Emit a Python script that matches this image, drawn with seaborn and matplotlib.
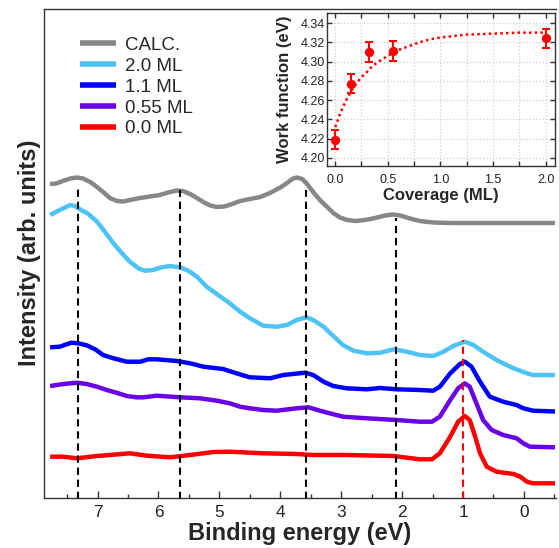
import numpy as np
import pandas as pd
import matplotlib
matplotlib.use("Agg")
import matplotlib.pyplot as plt
import seaborn as sns
from matplotlib.ticker import MultipleLocator, FormatStrFormatter

# ---------------- data (main panel) ----------------
series = ["CALC.", "2.0 ML", "1.1 ML", "0.55 ML", "0.0 ML"]
colors = ["#878787", "#4EC3F5", "#0000FF", "#6A00E6", "#FF0000"]

energy_calc = [7.78, 7.68, 7.57, 7.45, 7.34, 7.24, 7.12, 7.01, 6.89, 6.80, 6.68, 6.58, 6.47,
               6.30, 6.14, 5.98, 5.81, 5.70, 5.60, 5.48, 5.37, 5.25, 5.15, 5.04, 4.92, 4.79,
               4.66, 4.50, 4.33, 4.17, 4.00, 3.89, 3.79, 3.73, 3.64, 3.56, 3.46, 3.35, 3.23,
               3.13, 3.02, 2.90, 2.77, 2.61, 2.44, 2.28, 2.15, 2.03, 1.87, 1.71, 1.49, 1.21,
               -0.51]
int_calc = [315, 315.5, 318, 320.5, 321.5, 320.5, 317, 312, 306, 301, 298, 297.5, 299,
            301, 302.5, 304, 307, 308.5, 308, 305, 301, 296.5, 293.5, 292, 292.5, 295,
            298, 300, 302, 306, 311.5, 316, 320.5, 321.5, 320, 315, 307, 299, 292,
            286, 281.5, 279, 278, 279, 281, 283.5, 284.5, 283.5, 280.5, 278, 276.5, 276,
            276]

energy_20 = [7.78, 7.62, 7.45, 7.37, 7.29, 7.15, 7.01, 6.88, 6.74, 6.60, 6.47, 6.33, 6.22,
             6.09, 5.95, 5.81, 5.65, 5.51, 5.37, 5.21, 5.02, 4.83, 4.66, 4.50, 4.28, 4.06,
             3.89, 3.73, 3.57, 3.46, 3.29, 3.13, 2.97, 2.80, 2.58, 2.36, 2.14, 1.92, 1.71,
             1.49, 1.32, 1.16, 0.97, 0.83, 0.67, 0.45, 0.17, -0.05, -0.15, -0.51]
int_20 = [284, 289, 294, 293, 289.7, 285, 277.3, 267.3, 255.7, 245.7, 237.3, 230.7, 228.3,
          229, 231.7, 233, 231.7, 228.3, 222.3, 212.3, 204, 195.7, 187.3, 180.7, 173.3, 172.3,
          174, 179, 181.7, 179, 172.3, 163, 154, 148.3, 145.7, 146.3, 149.7, 147.3, 144,
          143, 147.3, 153, 157.3, 154, 147.3, 139, 130.7, 125.7, 124, 124]

energy_11 = [7.78, 7.62, 7.51, 7.43, 7.32, 7.18, 7.04, 6.91, 6.74, 6.52, 6.30, 6.17, 6.03,
             5.70, 5.48, 5.26, 4.94, 4.72, 4.50, 4.17, 3.95, 3.59, 3.46, 3.29, 3.13, 2.91,
             2.58, 2.36, 2.09, 1.71, 1.49, 1.38, 1.21, 1.05, 0.97, 0.86, 0.72, 0.56, 0.34,
             0.12, 0.01, -0.15, -0.51]
int_11 = [151.7, 152.3, 154.7, 156.3, 155.7, 153.7, 149.7, 144, 140.7, 137.3, 137.3, 139.7, 139.7,
          138, 135.7, 132.3, 130, 125.7, 121.7, 120.7, 124, 126.3, 124, 117.3, 113, 110.7,
          109.7, 111, 109.7, 109, 108.3, 112.3, 125.7, 135, 137.3, 132.3, 117.3, 102.3, 97.3,
          94, 90.7, 88.3, 87.5]

energy_055 = [7.78, 7.56, 7.34, 7.18, 7.01, 6.85, 6.69, 6.52, 6.36, 6.25, 6.03, 5.65, 5.32,
              5.04, 4.83, 4.66, 4.50, 4.28, 4.06, 3.73, 3.54, 3.29, 2.97, 2.58, 2.09, 1.71,
              1.51, 1.38, 1.21, 1.08, 0.97, 0.89, 0.78, 0.67, 0.53, 0.34, 0.12, 0.01, -0.10,
              -0.51]
int_055 = [113, 115, 116.3, 115, 112.3, 109, 106.3, 103, 101.7, 101.7, 103.3, 101.7, 100.7,
           98.3, 95.7, 92.3, 90.7, 89, 88.3, 90.7, 91.7, 87.3, 82.3, 80.7, 79, 77.3,
           77.3, 82.3, 99, 110.7, 115.7, 112.3, 95.7, 79, 69, 64, 60.7, 55.7, 52.3,
           51.7]

energy_00 = [7.78, 7.56, 7.34, 7.01, 6.74, 6.47, 6.19, 5.81, 5.48, 5.26, 5.10, 4.83, 4.28,
             3.73, 3.46, 2.91, 2.14, 1.71, 1.51, 1.38, 1.21, 1.08, 0.97, 0.89, 0.80, 0.72,
             0.61, 0.45, 0.17, 0.06, -0.05, -0.15, -0.51]
int_00 = [42.3, 42.3, 40.7, 43, 44.3, 45.7, 43.3, 41.7, 44, 45.7, 47, 47.3, 45.7,
          45, 44, 44, 43, 39.7, 39.7, 45.7, 62.3, 77.3, 83, 79, 62.3, 45.7,
          32.3, 27.3, 25, 22.3, 17.3, 15.7, 15.7]

peak_lines = [7.32, 5.65, 3.58, 2.10]
peak_tops = [314, 309, 309, 281]
red_line = 1.0
red_top = 159

# ---------------- data (inset) ----------------
coverage = [0.0, 0.15, 0.32, 0.55, 2.0]
work_function = [4.219, 4.277, 4.310, 4.311, 4.324]
wf_error = [0.010, 0.010, 0.010, 0.010, 0.010]
fit_x = [0.0, 0.05, 0.1, 0.15, 0.2, 0.25, 0.3, 0.35, 0.4, 0.5, 0.6, 0.7, 0.8, 0.9, 1.0,
         1.25, 1.5, 1.75, 2.0]
fit_y = [4.232, 4.247, 4.259, 4.269, 4.277, 4.284, 4.289, 4.295, 4.299, 4.306, 4.312,
         4.316, 4.320, 4.323, 4.325, 4.328, 4.329, 4.330, 4.330]

# ---------------- styling ----------------
sns.set_style("white")
plt.rcParams["font.family"] = ["Liberation Sans", "DejaVu Sans"]
plt.rcParams["axes.edgecolor"] = "#333333"

frames = []
for name, e, i in zip(series,
                      [energy_calc, energy_20, energy_11, energy_055, energy_00],
                      [int_calc, int_20, int_11, int_055, int_00]):
    frames.append(pd.DataFrame({"E": e, "I": i, "series": name}))
df = pd.concat(frames, ignore_index=True)

fig = plt.figure(figsize=(5.59, 5.48), dpi=100)
W, H = 559.0, 548.0
ax = fig.add_axes([44 / W, (H - 497.5) / H, 512 / W, 488.5 / H])

sns.lineplot(data=df, x="E", y="I", hue="series", hue_order=series,
             palette=dict(zip(series, colors)), sort=False, estimator=None,
             lw=3.2, ax=ax, legend=True)
for ln in ax.get_lines():
    ln.set_solid_joinstyle("round")
    ln.set_solid_capstyle("butt")

ax.vlines(peak_lines, 0, peak_tops, colors="black", linestyles=(0, (3.5, 2.3)),
          lw=1.5, zorder=5)
ax.vlines([red_line], 0, [red_top], colors="#FF0000", linestyles=(0, (3.5, 2.3)),
          lw=1.5, zorder=5)

ax.set_xlim(7.88, -0.527)
ax.set_ylim(1.5, 490)
ax.set_yticks([])
ax.xaxis.set_major_locator(MultipleLocator(1))
ax.xaxis.set_minor_locator(MultipleLocator(0.5))
ax.tick_params(axis="x", which="major", direction="in", length=5.2, width=1,
               labelsize=12.4, pad=5.5, bottom=True, colors="#333333", labelcolor="#222222")
ax.tick_params(axis="x", which="minor", direction="in", length=2.6, width=1, bottom=True,
               colors="#333333")
ax.spines["right"].set_visible(False)
for s in ["left", "top", "bottom"]:
    ax.spines[s].set_linewidth(1.0)
ax.set_xlabel("Binding energy (eV)", fontsize=17, fontweight="bold", labelpad=1)
ax.set_ylabel("Intensity (arb. units)", fontsize=17, fontweight="bold", labelpad=2.5)

handles, labels = ax.get_legend_handles_labels()
leg = ax.legend(handles, labels, loc="upper left", bbox_to_anchor=(0.0703, 0.943),
                frameon=False, fontsize=13.5, handlelength=1.9, handletextpad=0.48,
                labelspacing=0.2, borderpad=0, borderaxespad=0)
for h in leg.get_lines():
    h.set_linewidth(4)

# ---------------- inset ----------------
axi = fig.add_axes([327 / W, (H - 166) / H, 228 / W, 153 / H])
axi.set_facecolor("white")
axi.xaxis.set_major_locator(MultipleLocator(0.5))
axi.xaxis.set_minor_locator(MultipleLocator(0.25))
axi.yaxis.set_major_locator(MultipleLocator(0.02))
axi.grid(True, which="both", axis="x", color="#d0d0d0", linestyle=":", lw=0.9)
axi.grid(True, which="major", axis="y", color="#d0d0d0", linestyle=":", lw=0.9)
axi.set_axisbelow(True)

sns.lineplot(x=fit_x, y=fit_y, color="#FF0000", linestyle=(0, (1, 1.3)), lw=1.8, ax=axi)
axi.errorbar(coverage, work_function, yerr=wf_error, fmt="none", ecolor="#FF0000",
             elinewidth=1.5, capsize=3.2, capthick=1.5, zorder=4)
sns.scatterplot(x=coverage, y=work_function, color="#FF0000", s=45, edgecolor="#FF0000",
                linewidth=0, ax=axi, zorder=5)

axi.set_xlim(-0.078, 2.09)
axi.set_ylim(4.1917, 4.3504)
axi.yaxis.set_major_formatter(FormatStrFormatter("%.2f"))
axi.xaxis.set_major_formatter(FormatStrFormatter("%.1f"))
axi.tick_params(which="both", direction="in", top=True, right=True, bottom=True, left=True,
                length=3.5, width=1, labelsize=9, colors="#333333", labelcolor="#222222")
axi.tick_params(axis="x", which="both", pad=6)
axi.tick_params(axis="y", which="both", pad=1.5)
for s in axi.spines.values():
    s.set_linewidth(1.0)
    s.set_color("#333333")
axi.set_xlabel("Coverage (ML)", fontsize=12, fontweight="bold", labelpad=1.5)
axi.set_ylabel("Work function (eV)", fontsize=12, fontweight="bold", labelpad=6)

fig.savefig("out.png", dpi=100)
